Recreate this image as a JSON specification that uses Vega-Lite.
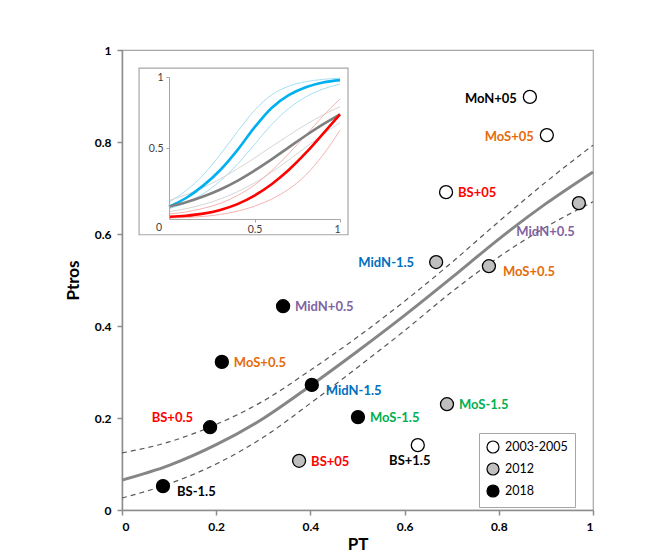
{
"$schema": "https://vega.github.io/schema/vega-lite/v6.json",
"width": 471, "height": 460,
"autosize": "none",
"padding": {"left": 122, "top": 50, "right": 53, "bottom": 43},
"background": "white",
"config": {
 "font": "Lato",
 "view": {"stroke": "#a6a6a6", "strokeWidth": 1.2},
 "axis": {"grid": false, "domainColor": "#8c8c8c", "domainWidth": 1.5, "tickColor": "#8c8c8c", "tickWidth": 1.5, "tickSize": 5, "labelFont": "Lato", "labelFontWeight": "bold", "labelFontSize": 12, "labelColor": "#000000", "titleFont": "Lato", "titleFontWeight": "bold", "titleFontSize": 17, "titleColor": "#000000"}
},
"datasets": {
 "curves": [
  {"curve":"fit","x":0,"y":0.065},{"curve":"fit","x":0.1,"y":0.097},{"curve":"fit","x":0.2,"y":0.142},{"curve":"fit","x":0.3,"y":0.199},{"curve":"fit","x":0.4,"y":0.270},{"curve":"fit","x":0.5,"y":0.345},{"curve":"fit","x":0.6,"y":0.423},{"curve":"fit","x":0.7,"y":0.505},{"curve":"fit","x":0.8,"y":0.589},{"curve":"fit","x":0.9,"y":0.666},{"curve":"fit","x":1,"y":0.735},
  {"curve":"upper","x":0,"y":0.124},{"curve":"upper","x":0.1,"y":0.148},{"curve":"upper","x":0.2,"y":0.186},{"curve":"upper","x":0.3,"y":0.237},{"curve":"upper","x":0.4,"y":0.304},{"curve":"upper","x":0.5,"y":0.376},{"curve":"upper","x":0.6,"y":0.454},{"curve":"upper","x":0.7,"y":0.538},{"curve":"upper","x":0.8,"y":0.627},{"curve":"upper","x":0.9,"y":0.713},{"curve":"upper","x":1,"y":0.793},
  {"curve":"lower","x":0,"y":0.026},{"curve":"lower","x":0.1,"y":0.057},{"curve":"lower","x":0.2,"y":0.100},{"curve":"lower","x":0.3,"y":0.158},{"curve":"lower","x":0.4,"y":0.232},{"curve":"lower","x":0.5,"y":0.310},{"curve":"lower","x":0.6,"y":0.390},{"curve":"lower","x":0.7,"y":0.474},{"curve":"lower","x":0.8,"y":0.550},{"curve":"lower","x":0.9,"y":0.615},{"curve":"lower","x":1,"y":0.670}
 ],
 "pts": [
  {"year":"2003-2005","label":"MoN+05","x":0.866,"y":0.898},
  {"year":"2003-2005","label":"MoS+05","x":0.902,"y":0.815},
  {"year":"2003-2005","label":"BS+05","x":0.688,"y":0.691},
  {"year":"2003-2005","label":"BS+1.5","x":0.628,"y":0.141},
  {"year":"2012","label":"MidN+0.5","x":0.970,"y":0.667},
  {"year":"2012","label":"MidN-1.5","x":0.667,"y":0.539},
  {"year":"2012","label":"MoS+0.5","x":0.779,"y":0.530},
  {"year":"2012","label":"MoS-1.5","x":0.690,"y":0.230},
  {"year":"2012","label":"BS+05","x":0.376,"y":0.107},
  {"year":"2018","label":"MidN+0.5","x":0.342,"y":0.443},
  {"year":"2018","label":"MoS+0.5","x":0.212,"y":0.322},
  {"year":"2018","label":"MidN-1.5","x":0.403,"y":0.272},
  {"year":"2018","label":"MoS-1.5","x":0.501,"y":0.202},
  {"year":"2018","label":"BS+0.5","x":0.187,"y":0.180},
  {"year":"2018","label":"BS-1.5","x":0.087,"y":0.052}
 ],
 "inset": [
  {"series":"A","x":0,"y":0.087},{"series":"A","x":0.1,"y":0.148},{"series":"A","x":0.2,"y":0.235},{"series":"A","x":0.3,"y":0.345},{"series":"A","x":0.4,"y":0.485},{"series":"A","x":0.5,"y":0.645},{"series":"A","x":0.6,"y":0.782},{"series":"A","x":0.7,"y":0.872},{"series":"A","x":0.8,"y":0.928},{"series":"A","x":0.9,"y":0.961},{"series":"A","x":1,"y":0.978},
  {"series":"A_hi","x":0,"y":0.119},{"series":"A_hi","x":0.1,"y":0.2},{"series":"A_hi","x":0.2,"y":0.31},{"series":"A_hi","x":0.3,"y":0.455},{"series":"A_hi","x":0.4,"y":0.615},{"series":"A_hi","x":0.5,"y":0.765},{"series":"A_hi","x":0.6,"y":0.874},{"series":"A_hi","x":0.7,"y":0.935},{"series":"A_hi","x":0.8,"y":0.967},{"series":"A_hi","x":0.9,"y":0.983},{"series":"A_hi","x":1,"y":0.992},
  {"series":"A_lo","x":0,"y":0.072},{"series":"A_lo","x":0.1,"y":0.115},{"series":"A_lo","x":0.2,"y":0.178},{"series":"A_lo","x":0.3,"y":0.268},{"series":"A_lo","x":0.4,"y":0.385},{"series":"A_lo","x":0.5,"y":0.525},{"series":"A_lo","x":0.6,"y":0.665},{"series":"A_lo","x":0.7,"y":0.778},{"series":"A_lo","x":0.8,"y":0.86},{"series":"A_lo","x":0.9,"y":0.915},{"series":"A_lo","x":1,"y":0.950},
  {"series":"B","x":0,"y":0.087},{"series":"B","x":0.1,"y":0.118},{"series":"B","x":0.2,"y":0.158},{"series":"B","x":0.3,"y":0.208},{"series":"B","x":0.4,"y":0.269},{"series":"B","x":0.5,"y":0.341},{"series":"B","x":0.6,"y":0.420},{"series":"B","x":0.7,"y":0.504},{"series":"B","x":0.8,"y":0.588},{"series":"B","x":0.9,"y":0.666},{"series":"B","x":1,"y":0.737},
  {"series":"B_hi","x":0,"y":0.130},{"series":"B_hi","x":0.1,"y":0.171},{"series":"B_hi","x":0.2,"y":0.222},{"series":"B_hi","x":0.3,"y":0.283},{"series":"B_hi","x":0.4,"y":0.353},{"series":"B_hi","x":0.5,"y":0.429},{"series":"B_hi","x":0.6,"y":0.510},{"series":"B_hi","x":0.7,"y":0.589},{"series":"B_hi","x":0.8,"y":0.665},{"series":"B_hi","x":0.9,"y":0.732},{"series":"B_hi","x":1,"y":0.791},
  {"series":"B_lo","x":0,"y":0.052},{"series":"B_lo","x":0.1,"y":0.073},{"series":"B_lo","x":0.2,"y":0.102},{"series":"B_lo","x":0.3,"y":0.141},{"series":"B_lo","x":0.4,"y":0.192},{"series":"B_lo","x":0.5,"y":0.254},{"series":"B_lo","x":0.6,"y":0.330},{"series":"B_lo","x":0.7,"y":0.415},{"series":"B_lo","x":0.8,"y":0.505},{"series":"B_lo","x":0.9,"y":0.595},{"series":"B_lo","x":1,"y":0.679},
  {"series":"C","x":0,"y":0.015},{"series":"C","x":0.1,"y":0.023},{"series":"C","x":0.2,"y":0.038},{"series":"C","x":0.3,"y":0.064},{"series":"C","x":0.4,"y":0.105},{"series":"C","x":0.5,"y":0.165},{"series":"C","x":0.6,"y":0.245},{"series":"C","x":0.7,"y":0.345},{"series":"C","x":0.8,"y":0.465},{"series":"C","x":0.9,"y":0.600},{"series":"C","x":1,"y":0.737},
  {"series":"C_hi","x":0,"y":0.035},{"series":"C_hi","x":0.1,"y":0.05},{"series":"C_hi","x":0.2,"y":0.075},{"series":"C_hi","x":0.3,"y":0.11},{"series":"C_hi","x":0.4,"y":0.165},{"series":"C_hi","x":0.5,"y":0.24},{"series":"C_hi","x":0.6,"y":0.34},{"series":"C_hi","x":0.7,"y":0.46},{"series":"C_hi","x":0.8,"y":0.59},{"series":"C_hi","x":0.9,"y":0.725},{"series":"C_hi","x":1,"y":0.845},
  {"series":"C_lo","x":0,"y":0.007},{"series":"C_lo","x":0.1,"y":0.011},{"series":"C_lo","x":0.2,"y":0.018},{"series":"C_lo","x":0.3,"y":0.032},{"series":"C_lo","x":0.4,"y":0.055},{"series":"C_lo","x":0.5,"y":0.09},{"series":"C_lo","x":0.6,"y":0.14},{"series":"C_lo","x":0.7,"y":0.21},{"series":"C_lo","x":0.8,"y":0.31},{"series":"C_lo","x":0.9,"y":0.45},{"series":"C_lo","x":1,"y":0.625}
 ]
},
"layer": [
 {
  "encoding": {
   "x": {"field": "x", "type": "quantitative", "scale": {"domain": [0, 1]}, "axis": {"values": [0, 0.2, 0.4, 0.6, 0.8, 1], "format": "~g", "labelPadding": 6, "titlePadding": 4}, "title": "PT"},
   "y": {"field": "y", "type": "quantitative", "scale": {"domain": [0, 1]}, "axis": {"values": [0, 0.2, 0.4, 0.6, 0.8, 1], "format": "~g", "labelPadding": 6, "titlePadding": 12}, "title": "Ptros"}
  },
  "layer": [
   {"data": {"name": "curves"}, "transform": [{"filter": "datum.curve != 'fit'"}],
    "mark": {"type": "line", "color": "#595959", "strokeWidth": 1.2, "strokeDash": [5, 4], "interpolate": "monotone"},
    "encoding": {"detail": {"field": "curve"}}},
   {"data": {"name": "curves"}, "transform": [{"filter": "datum.curve == 'fit'"}],
    "mark": {"type": "line", "color": "#868686", "strokeWidth": 3, "interpolate": "monotone"},
    "encoding": {}},
   {"data": {"name": "pts"},
    "mark": {"type": "point", "shape": "circle", "filled": true, "size": 169, "stroke": "#000000", "strokeWidth": 1.3, "opacity": 1},
    "encoding": {"fill": {"field": "year", "type": "nominal", "scale": {"domain": ["2003-2005", "2012", "2018"], "range": ["#ffffff", "#bfbfbf", "#000000"]},
      "legend": {"orient": "none", "legendX": 357, "legendY": 383, "title": null, "strokeColor": "#a6a6a6", "fillColor": "#ffffff", "padding": 7, "symbolSize": 144, "symbolType": "circle", "symbolStrokeColor": "#000000", "symbolStrokeWidth": 1.2, "labelFontSize": 12.5, "labelFont": "Lato", "labelColor": "#000000", "rowPadding": 4, "labelOffset": 5}}}},
   {"data": {"name": "pts"}, "transform": [{"filter": "indexof(['2003-2005|BS+05','2012|MoS-1.5','2012|BS+05','2018|MidN+0.5','2018|MoS+0.5','2018|MoS-1.5'], datum.year + '|' + datum.label) >= 0"}],
    "mark": {"type": "text", "align": "left", "baseline": "middle", "dx": 12, "dy": 1, "fontWeight": "bold", "fontSize": 13},
    "encoding": {"text": {"field": "label"}, "color": {"field": "label", "type": "nominal", "scale": {"domain": ["MoN+05","MoS+05","BS+05","BS+1.5","MidN+0.5","MidN-1.5","MoS+0.5","MoS-1.5","BS+0.5","BS-1.5"], "range": ["#000000","#e46c0a","#ff0000","#000000","#8064a2","#0070c0","#e46c0a","#00b050","#ff0000","#000000"]}, "legend": null}}},
   {"data": {"name": "pts"}, "transform": [{"filter": "indexof(['2012|MoS+0.5','2018|MidN-1.5','2018|BS-1.5'], datum.year + '|' + datum.label) >= 0"}],
    "mark": {"type": "text", "align": "left", "baseline": "middle", "dx": 14, "dy": 6, "fontWeight": "bold", "fontSize": 13},
    "encoding": {"text": {"field": "label"}, "color": {"field": "label", "type": "nominal", "legend": null}}},
   {"data": {"name": "pts"}, "transform": [{"filter": "indexof(['2003-2005|MoN+05','2003-2005|MoS+05'], datum.year + '|' + datum.label) >= 0"}],
    "mark": {"type": "text", "align": "right", "baseline": "middle", "dx": -13, "dy": 2, "fontWeight": "bold", "fontSize": 13},
    "encoding": {"text": {"field": "label"}, "color": {"field": "label", "type": "nominal", "legend": null}}},
   {"data": {"name": "pts"}, "transform": [{"filter": "datum.year == '2012' && datum.label == 'MidN-1.5'"}],
    "mark": {"type": "text", "align": "right", "baseline": "middle", "dx": -22, "dy": 1, "fontWeight": "bold", "fontSize": 13},
    "encoding": {"text": {"field": "label"}, "color": {"field": "label", "type": "nominal", "legend": null}}},
   {"data": {"name": "pts"}, "transform": [{"filter": "datum.year == '2012' && datum.label == 'MidN+0.5'"}],
    "mark": {"type": "text", "align": "right", "baseline": "middle", "dx": -4, "dy": 29, "fontWeight": "bold", "fontSize": 13},
    "encoding": {"text": {"field": "label"}, "color": {"field": "label", "type": "nominal", "legend": null}}},
   {"data": {"name": "pts"}, "transform": [{"filter": "datum.year == '2003-2005' && datum.label == 'BS+1.5'"}],
    "mark": {"type": "text", "align": "center", "baseline": "middle", "dx": -8, "dy": 16, "fontWeight": "bold", "fontSize": 13},
    "encoding": {"text": {"field": "label"}, "color": {"field": "label", "type": "nominal", "legend": null}}},
   {"data": {"name": "pts"}, "transform": [{"filter": "datum.year == '2018' && datum.label == 'BS+0.5'"}],
    "mark": {"type": "text", "align": "right", "baseline": "middle", "dx": -17, "dy": -9, "fontWeight": "bold", "fontSize": 13},
    "encoding": {"text": {"field": "label"}, "color": {"field": "label", "type": "nominal", "legend": null}}}
  ]
 },
 {
  "layer": [
   {"data": {"values": [{"frame": "inset"}]},
    "mark": {"type": "rect", "fill": "#ffffff", "fillOpacity": 0, "stroke": "#a6a6a6", "strokeWidth": 1.2},
    "encoding": {
     "x": {"datum": -0.175, "type": "quantitative", "scale": {"domain": [0, 1], "range": [47, 218]},
       "axis": {"orient": "bottom", "offset": -291, "zindex": 1, "values": [0.5, 1], "format": "~g", "title": null, "labelFontWeight": "normal", "labelFontSize": 10.5, "labelColor": "#404040", "tickSize": 3, "tickWidth": 1, "domainWidth": 1, "domainColor": "#a6a6a6", "tickColor": "#a6a6a6", "labelPadding": 2}},
     "x2": {"datum": 1.047},
     "y": {"datum": -0.111, "type": "quantitative", "scale": {"domain": [0, 1], "range": [169, 27]},
       "axis": {"orient": "left", "offset": -47, "zindex": 1, "values": [0.5, 1], "format": "~g", "title": null, "labelFontWeight": "normal", "labelFontSize": 10.5, "labelColor": "#404040", "tickSize": 3, "tickWidth": 1, "domainWidth": 1, "domainColor": "#a6a6a6", "tickColor": "#a6a6a6", "labelPadding": 3}},
     "y2": {"datum": 1.0625}}},
   {"data": {"name": "inset"}, "transform": [{"filter": "indexof(datum.series, '_') >= 0"}],
    "mark": {"type": "line", "strokeWidth": 1, "interpolate": "monotone"},
    "encoding": {
     "x": {"field": "x", "type": "quantitative", "title": null},
     "y": {"field": "y", "type": "quantitative", "title": null},
     "color": {"field": "series", "type": "nominal", "scale": {"domain": ["A_hi","A_lo","B_hi","B_lo","C_hi","C_lo","B","A","C"], "range": ["#a7def3","#a7def3","#d6d6d6","#d6d6d6","#f5b3b3","#f5b3b3","#7f7f7f","#00b0f0","#ff0000"]}, "legend": null}}},
   {"data": {"name": "inset"}, "transform": [{"filter": "indexof(datum.series, '_') < 0"}],
    "mark": {"type": "line", "strokeWidth": 2.6, "interpolate": "monotone"},
    "encoding": {
     "x": {"field": "x", "type": "quantitative", "title": null},
     "y": {"field": "y", "type": "quantitative", "title": null},
     "color": {"field": "series", "type": "nominal", "legend": null}}},
   {"data": {"values": [{"label": "0", "x": 0, "y": 0}]},
    "mark": {"type": "text", "dx": -10, "dy": 9, "fontSize": 10.5, "color": "#404040", "align": "center", "baseline": "middle"},
    "encoding": {
     "x": {"field": "x", "type": "quantitative", "title": null},
     "y": {"field": "y", "type": "quantitative", "title": null},
     "text": {"field": "label"}}}
  ]
 }
],
"resolve": {"scale": {"x": "independent", "y": "independent", "color": "independent"}, "axis": {"x": "independent", "y": "independent"}}
}
